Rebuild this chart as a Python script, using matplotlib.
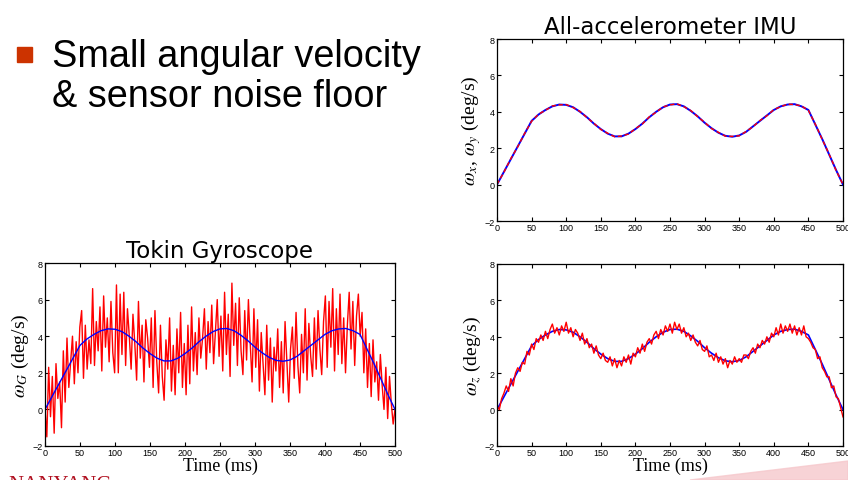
import numpy as np
import matplotlib
matplotlib.use("Agg")
import matplotlib.pyplot as plt
from matplotlib.patches import Rectangle, Polygon

# ---------------- data ----------------
# true angular velocity (blue), sampled every 10 ms from 0 to 500 ms
true_rate = [0.0, 0.7, 1.4, 2.1, 2.8, 3.5, 3.85, 4.1, 4.3, 4.4, 4.38,
             4.25, 4.0, 3.7, 3.35, 3.05, 2.8, 2.65, 2.65, 2.8, 3.05,
             3.35, 3.7, 4.0, 4.25, 4.4, 4.42, 4.3, 4.05, 3.75, 3.4,
             3.1, 2.85, 2.68, 2.63, 2.7, 2.9, 3.2, 3.5, 3.8, 4.1,
             4.3, 4.4, 4.42, 4.3, 4.1, 3.3, 2.5, 1.65, 0.8, 0.0]

# all-accelerometer IMU estimate of omega_x, omega_y (red, top right)
imu_xy = [0.02, 0.68, 1.43, 2.08, 2.82, 3.48, 3.87, 4.08, 4.32, 4.38, 4.40,
          4.23, 4.02, 3.68, 3.37, 3.03, 2.82, 2.63, 2.67, 2.78, 3.07,
          3.33, 3.72, 3.98, 4.27, 4.38, 4.44, 4.28, 4.07, 3.73, 3.42,
          3.08, 2.87, 2.66, 2.65, 2.68, 2.92, 3.18, 3.52, 3.78, 4.12,
          4.28, 4.42, 4.40, 4.32, 4.08, 3.32, 2.48, 1.67, 0.78, 0.0]

# Tokin gyroscope measurement (red, bottom left), evenly spaced over 0..500 ms
gyro = [0.0, -1.5, 2.3, -0.4, 1.8, -1.3, 2.5, 0.6, 1.5, -1.0, 3.2, 0.4, 3.9,
        1.2, 2.6, 4.0, 1.4, 3.7, 2.0, 4.5, 5.4,
        1.7, 4.6, 2.2, 3.8, 2.5, 6.6, 2.4, 4.8, 3.2, 5.6, 2.1, 6.2, 3.4, 5.0,
        2.6, 5.9, 3.1, 2.0, 6.8,
        2.0, 6.3, 3.0, 6.4, 2.4, 5.5, 4.0, 2.2, 5.2, 3.6, 1.6, 5.9, 2.8, 4.6,
        1.5, 4.9, 3.9, 2.3, 5.0,
        1.2, 5.4, 2.6, 0.9, 4.6, 1.8, 0.5, 3.8, 2.2, 5.0, 1.0, 3.5, 0.8, 4.4,
        2.0, 5.3, 1.2, 3.6, 0.8,
        4.6, 1.4, 5.6, 2.1, 4.2, 1.9, 5.0, 2.8, 3.9, 5.5, 2.2, 4.8, 3.1, 5.7,
        2.5, 4.3, 6.0, 2.9, 5.1,
        2.1, 6.4, 3.0, 5.2, 1.8, 6.9, 3.5, 5.8, 2.4, 6.1, 3.2, 1.9, 5.4, 2.7,
        6.0, 3.6, 1.5, 5.5, 2.3,
        4.9, 1.0, 4.2, 2.5, 0.8, 4.6, 1.6, 3.9, 0.4, 3.4, 2.1, 4.4, 1.2, 3.7,
        0.9, 4.8, 2.6, 0.4, 3.3,
        4.5, 1.7, 5.3, 2.4, 0.9, 4.1, 2.0, 5.5, 1.6, 4.7, 2.9, 1.8, 5.0, 2.2,
        5.4, 3.3, 1.9, 4.8, 6.2,
        2.3, 5.9, 3.4, 6.6, 2.1, 5.5, 3.0, 6.3, 2.5, 5.0, 2.0, 4.6, 6.4, 3.3,
        5.9, 2.4, 5.1, 6.3, 4.0,
        5.3, 2.0, 4.4, 1.2, 3.6, 0.7, 3.8, 1.5, 2.6, 0.5, 3.0, 1.3, 0.0, 2.3,
        -0.5, 1.8, 0.3, -0.8, 0.0]

# all-accelerometer IMU estimate of omega_z (red, bottom right)
imu_z = [0.2, 0.0, 0.6, 0.9, 1.3, 1.0, 1.7, 1.3, 2.0, 2.3, 2.1, 2.6,
         2.5, 3.2, 3.0, 3.6, 3.3, 3.9, 3.7, 4.1, 3.8, 4.3, 3.9, 4.4,
         4.7, 4.2, 4.5, 4.1, 4.6, 4.3, 4.8, 4.2, 4.5, 4.0, 4.4, 4.2,
         3.8, 4.2, 3.6, 3.9, 3.4, 3.6, 3.1, 3.5, 3.0, 2.8, 3.1, 2.7,
         2.6, 2.9, 2.4, 2.8, 2.3, 2.7, 2.4, 2.9, 2.6, 3.0, 2.5, 3.1,
         2.9, 3.4, 3.1, 3.6, 3.2, 3.7, 3.9, 3.6, 4.1, 4.3, 3.9, 4.4,
         4.1, 4.6, 4.3, 4.7, 4.2, 4.8, 4.4, 4.7, 4.2, 4.5, 4.0, 4.2,
         3.8, 4.1, 3.7, 3.5, 3.8, 3.3, 3.2, 3.5, 2.9, 3.0, 2.7, 3.1,
         2.6, 2.9, 2.5, 2.8, 2.3, 2.7, 2.5, 2.9, 2.6, 2.8, 2.6, 3.0,
         3.0, 2.8, 3.2, 3.4, 3.1, 3.6, 3.4, 3.8, 3.6, 4.0, 3.7, 4.2,
         4.0, 4.5, 4.1, 4.7, 4.2, 4.6, 4.3, 4.7, 4.2, 4.6, 4.1, 4.5,
         4.1, 4.6, 4.0, 3.9, 3.7, 3.4, 3.3, 2.8, 2.9, 2.3, 2.1, 1.8,
         1.8, 1.2, 1.3, 0.7, 0.6, 0.1, -0.4]

x_ticks = [0, 50, 100, 150, 200, 250, 300, 350, 400, 450, 500]
y_ticks = [-2, 0, 2, 4, 6, 8]

# ---------------- figure ----------------
plt.rcParams['mathtext.fontset'] = 'stix'
W, H = 848, 481
fig = plt.figure(figsize=(W / 100, H / 100), dpi=100)
fig.patch.set_facecolor('white')

def fx(px):
    return px / W

def fy(py):
    return 1 - py / H

serif = ['Liberation Serif', 'DejaVu Serif']
sans = ['Liberation Sans', 'DejaVu Sans']

def style_axis(ax):
    ax.set_xlim(0, 500)
    ax.set_ylim(-2, 8)
    ax.set_xticks(x_ticks)
    ax.set_yticks(y_ticks)
    ax.tick_params(direction='in', length=3, width=0.8, top=True, right=True,
                   labelsize=6.5, pad=1.5, colors='black')
    for lab in ax.get_xticklabels() + ax.get_yticklabels():
        lab.set_fontfamily(sans)
    for s in ax.spines.values():
        s.set_linewidth(0.9)

t_true = np.linspace(0, 500, len(true_rate))

# Bottom-left: Tokin gyroscope
ax1 = fig.add_axes([fx(45), fy(447), fx(395) - fx(45), fy(264) - fy(447)])
ax1.plot(np.linspace(0, 500, len(gyro)), gyro, color='#ff0000', lw=1.0)
ax1.plot(t_true, true_rate, color='#0000ff', lw=1.0)
style_axis(ax1)
ax1.set_title('Tokin Gyroscope', fontsize=16.5, family=['DejaVu Sans'], pad=4)
ax1.set_xlabel('Time (ms)', fontsize=13, family=serif, labelpad=0)
ax1.set_ylabel(r'$\omega_G$ (deg/s)', fontsize=14, family=serif, labelpad=1)

# Top-right: omega_x, omega_y
ax2 = fig.add_axes([fx(497), fy(222), fx(843) - fx(497), fy(40) - fy(222)])
ax2.plot(t_true, true_rate, color='#0000ff', lw=1.4)
ax2.plot(np.linspace(0, 500, len(imu_xy)), imu_xy, color='#ff0000', lw=1.0,
         dashes=(3, 2))
style_axis(ax2)
ax2.set_title('All-accelerometer IMU', fontsize=16.5, family=['DejaVu Sans'], pad=4)
ax2.set_ylabel(r'$\omega_x$, $\omega_y$ (deg/s)', fontsize=14, family=serif,
               labelpad=1)

# Bottom-right: omega_z
ax3 = fig.add_axes([fx(497), fy(447), fx(843) - fx(497), fy(265) - fy(447)])
ax3.plot(t_true, true_rate, color='#0000ff', lw=1.2)
ax3.plot(np.linspace(0, 500, len(imu_z)), imu_z, color='#ff0000', lw=1.0)
style_axis(ax3)
ax3.set_xlabel('Time (ms)', fontsize=13, family=serif, labelpad=0)
ax3.set_ylabel(r'$\omega_z$ (deg/s)', fontsize=14, family=serif, labelpad=1)

# Slide text with bullet
fig.patches.append(Rectangle((fx(17), fy(63)), fx(15), fy(48) - fy(63),
                             transform=fig.transFigure, color='#cc3300'))
fig.text(fx(52), fy(67), 'Small angular velocity', fontsize=27.3,
         family=sans, va='baseline', ha='left')
fig.text(fx(52), fy(107), '& sensor noise floor', fontsize=27.3,
         family=sans, va='baseline', ha='left')

# footer decorations
fig.text(fx(8), fy(490), 'NANYANG', fontsize=15, family=serif,
         color='#b01020', va='baseline', ha='left')
fig.patches.append(Polygon([[fx(690), fy(481)], [fx(848), fy(462)],
                            [fx(848), fy(481)]], closed=True,
                           transform=fig.transFigure, color='#f6c8cc',
                           alpha=0.8, zorder=0))

fig.savefig('out.png', dpi=100)
